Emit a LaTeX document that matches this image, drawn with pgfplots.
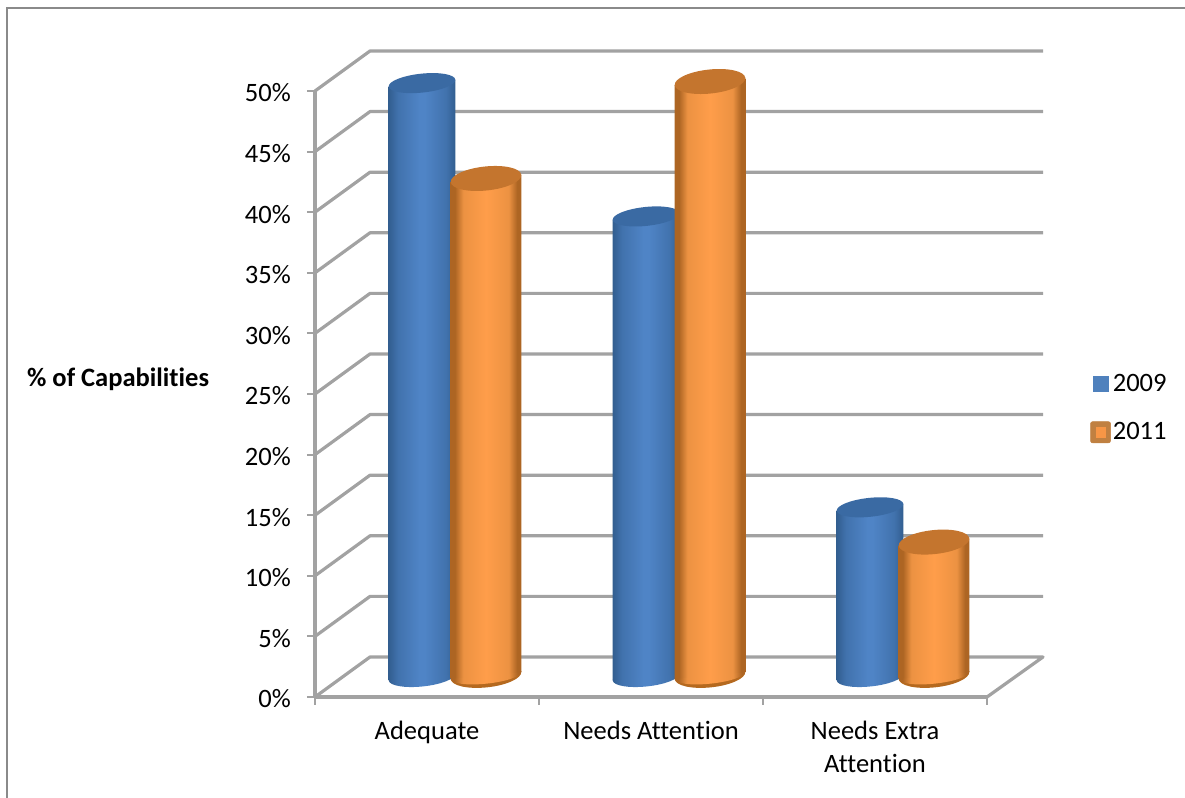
\documentclass[border=0pt]{standalone}
\usepackage{fontspec}
\setmainfont[Ligatures=NoCommon]{Carlito}
\usepackage{pgfplots}
\usepackage{pgfplotstable}
\pgfplotsset{compat=1.18}

\definecolor{wallgray}{HTML}{A2A2A2}
\definecolor{framegray}{HTML}{8A8A8A}
\definecolor{bluea}{HTML}{325E90}
\definecolor{blueb}{HTML}{4172AD}
\definecolor{bluec}{HTML}{4F84C6}
\definecolor{bluetop}{HTML}{3A6AA3}
\definecolor{orangea}{HTML}{AD6523}
\definecolor{orangeb}{HTML}{EC9242}
\definecolor{orangec}{HTML}{FF9D4A}
\definecolor{orangetop}{HTML}{C4752E}
\definecolor{orangerim}{HTML}{B5691F}
\definecolor{legendblue}{HTML}{4F81BD}
\definecolor{legendorange}{HTML}{F79646}

% Sideways gradient of a lit cylinder; the path spans 25bp to 75bp.
\pgfdeclarehorizontalshading{cylblue}{100bp}{color(0bp)=(bluea); color(25bp)=(bluea); color(32bp)=(blueb); color(48bp)=(bluec); color(52bp)=(bluec); color(68bp)=(blueb); color(75bp)=(bluea); color(100bp)=(bluea)}
\pgfdeclarehorizontalshading{cylorange}{100bp}{color(0bp)=(orangea); color(25bp)=(orangea); color(28bp)=(orangea); color(34bp)=(orangeb); color(50bp)=(orangec); color(66bp)=(orangeb); color(72bp)=(orangea); color(75bp)=(orangea); color(100bp)=(orangea)}

% Cylinders: the mark sits at the top of the column, \cylval gives its height.
\pgfdeclareplotmark{cylblue}{%
  \pgftransformshift{\pgfpoint{-3.75pt}{15pt}}%
  \pgfpathellipse{\pgfpoint{0pt}{-\cylval*9.09pt}}{\pgfpointpolar{6}{25.1pt}}{\pgfpointpolar{96}{7.1pt}}%
  \pgfshadepath{cylblue}{0}\pgfusepath{discard}%
  \pgfpathmoveto{\pgfpoint{-25pt}{-2.4pt}}%
  \pgfpathlineto{\pgfpoint{25pt}{2.4pt}}%
  \pgfpathlineto{\pgfpoint{25pt}{2.4pt-\cylval*9.09pt}}%
  \pgfpathlineto{\pgfpoint{-25pt}{-2.4pt-\cylval*9.09pt}}%
  \pgfpathclose
  \pgfshadepath{cylblue}{0}\pgfusepath{discard}%
  \pgfsetfillcolor{bluetop}%
  \pgfpathellipse{\pgfpointorigin}{\pgfpointpolar{6}{25.1pt}}{\pgfpointpolar{96}{7.1pt}}%
  \pgfusepath{fill}%
}
\pgfdeclareplotmark{cylorange}{%
  \pgftransformshift{\pgfpoint{44.25pt}{16.2pt}}%
  \pgfsetfillcolor{orangerim}%
  \pgfpathellipse{\pgfpoint{0pt}{-\cylval*9.09pt}}{\pgfpointpolar{6}{26.6pt}}{\pgfpointpolar{96}{9pt}}%
  \pgfusepath{fill}%
  \pgfpathellipse{\pgfpoint{0pt}{-\cylval*9.09pt}}{\pgfpointpolar{6}{26.6pt}}{\pgfpointpolar{96}{6.2pt}}%
  \pgfshadepath{cylorange}{0}\pgfusepath{discard}%
  \pgfpathmoveto{\pgfpoint{-26.5pt}{-2.5pt}}%
  \pgfpathlineto{\pgfpoint{26.5pt}{2.5pt}}%
  \pgfpathlineto{\pgfpoint{26.5pt}{2.5pt-\cylval*9.09pt}}%
  \pgfpathlineto{\pgfpoint{-26.5pt}{-2.5pt-\cylval*9.09pt}}%
  \pgfpathclose
  \pgfshadepath{cylorange}{0}\pgfusepath{discard}%
  \pgfsetfillcolor{orangetop}%
  \pgfpathellipse{\pgfpointorigin}{\pgfpointpolar{6}{26.6pt}}{\pgfpointpolar{96}{9pt}}%
  \pgfusepath{fill}%
}

\pgfplotstableread{
x   v
0.5 49
1.5 38
2.5 14
}\capsNine
\pgfplotstableread{
x   v
0.5 41
1.5 49
2.5 11
}\capsEleven

\begin{document}
\begin{tikzpicture}
  % page extent and the chart frame along its left and top edges
  \path[use as bounding box] (0pt,0pt) rectangle (888.75pt,598.5pt);
  \draw[framegray,line width=1.5pt] (5.1pt,0pt) -- (5.1pt,592.4pt) -- (888.75pt,592.4pt);
  \begin{axis}[
    at={(236.25pt,75.75pt)}, anchor=south west,
    scale only axis, width=504pt, height=454.5pt,
    xmin=0, xmax=3, ymin=0, ymax=50,
    clip=false,
    axis x line*=bottom, axis y line*=left,
    axis line style={wallgray,line width=2.4pt,-},
    tick align=outside,
    major tick length=6pt,
    tick style={wallgray,line width=1.5pt},
    font=\fontsize{19.9}{24.8}\selectfont,
    xtick={0,1,2,3}, xticklabels={},
    extra x ticks={0.5,1.5,2.5},
    extra x tick labels={Adequate,Needs Attention,Needs Extra\\Attention},
    extra x tick style={major tick length=0pt,
      xticklabel style={align=center,anchor=north,yshift=-14.5pt}},
    ytick={0,5,...,50},
    yticklabel={\pgfmathprintnumber{\tick}\%},
    /pgf/number format/assume math mode=true,
    yticklabel style={anchor=east,xshift=-8.6pt,yshift=-1.5pt},
    ylabel={\textbf{\% of Capabilities}},
    ylabel style={at={(axis description cs:-0.293,0.525)},rotate=-90,anchor=center},
    legend style={at={(axis cs:3.461,26.63)},anchor=north west,draw=none,fill=none,
      inner sep=0pt,outer sep=0pt,row sep=21pt,
      font=\fontsize{19.9}{19.9}\selectfont,
      nodes={inner sep=0pt}},
    legend cell align=left,
  ]
    % floor and back wall
    \addplot[wallgray,line width=2.4pt,line join=round,forget plot] coordinates {(3,0)(3.25,3.3)(0.2455,3.3)(0,0)};
    \addplot[wallgray,line width=2.4pt,line join=round,forget plot] coordinates {(0,5)(0.2455,8.3)(3.25,8.3)};
    \addplot[wallgray,line width=2.4pt,line join=round,forget plot] coordinates {(0,10)(0.2455,13.3)(3.25,13.3)};
    \addplot[wallgray,line width=2.4pt,line join=round,forget plot] coordinates {(0,15)(0.2455,18.3)(3.25,18.3)};
    \addplot[wallgray,line width=2.4pt,line join=round,forget plot] coordinates {(0,20)(0.2455,23.3)(3.25,23.3)};
    \addplot[wallgray,line width=2.4pt,line join=round,forget plot] coordinates {(0,25)(0.2455,28.3)(3.25,28.3)};
    \addplot[wallgray,line width=2.4pt,line join=round,forget plot] coordinates {(0,30)(0.2455,33.3)(3.25,33.3)};
    \addplot[wallgray,line width=2.4pt,line join=round,forget plot] coordinates {(0,35)(0.2455,38.3)(3.25,38.3)};
    \addplot[wallgray,line width=2.4pt,line join=round,forget plot] coordinates {(0,40)(0.2455,43.3)(3.25,43.3)};
    \addplot[wallgray,line width=2.4pt,line join=round,forget plot] coordinates {(0,45)(0.2455,48.3)(3.25,48.3)};
    \addplot[wallgray,line width=2.4pt,line join=round,forget plot] coordinates {(0,50)(0.2455,53.3)(3.25,53.3)};

    % columns for the two survey years
    \addplot[scatter,only marks,mark=cylblue,
      visualization depends on={rawy\as\cylval},
      legend image code/.code={\fill[legendblue] (0pt,-5.6pt) rectangle (11.25pt,5.6pt);}]
      table[x=x,y=v] {\capsNine};
    \addlegendentry{\hspace{1.5pt}2009}
    \addplot[scatter,only marks,mark=cylorange,
      visualization depends on={rawy\as\cylval},
      legend image code/.code={\fill[orangerim!85!white,rounded corners=1.5pt] (-2.2pt,-7.9pt) rectangle (12.8pt,7.9pt);
        \fill[legendorange] (2.2pt,-3.4pt) rectangle (8.9pt,3.4pt);}]
      table[x=x,y=v] {\capsEleven};
    \addlegendentry{\hspace{1.5pt}2011}
  \end{axis}
\end{tikzpicture}
\end{document}
